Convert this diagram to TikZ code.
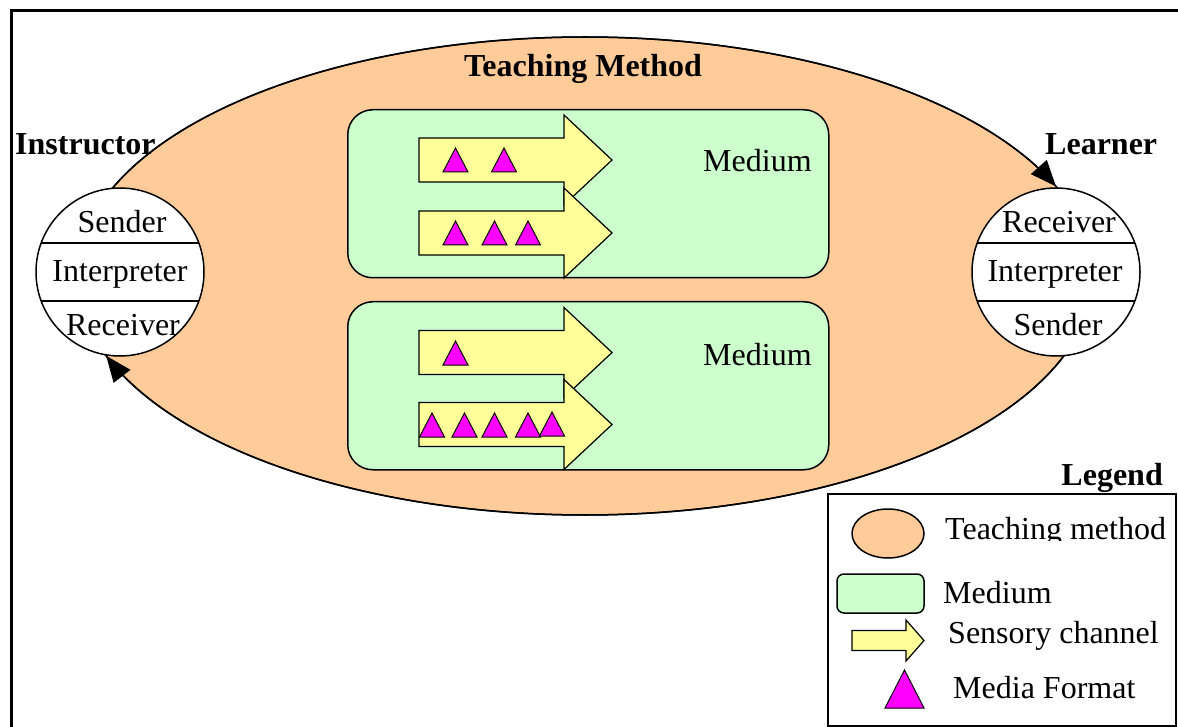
\documentclass[tikz,border=0pt]{standalone}
\usepackage{fontspec}
\setmainfont{Liberation Serif}
\usetikzlibrary{arrows.meta,shapes.geometric}
\definecolor{teachfill}{HTML}{FFCC99}
\definecolor{medfill}{HTML}{CCFFCC}
\definecolor{chanfill}{HTML}{FFFF99}
\definecolor{fmtfill}{HTML}{FF00FF}
\begin{document}
\begin{tikzpicture}[x=1pt,y=-1pt,
  every node/.style={inner sep=0pt, font=\fontsize{32}{38}\selectfont},
  boldlab/.style={font=\fontsize{32}{38}\selectfont\bfseries},
  mediumbox/.style={draw, fill=medfill, line width=1.5pt, rounded corners=25pt, anchor=north west},
  person/.style={circle, draw, fill=white, line width=1.5pt, minimum size=168pt},
  chanstyle/.style={draw, fill=chanfill, line width=1.2pt, line join=miter},
  fmtstyle/.style={draw, fill=fmtfill, line width=1pt, line join=miter},
  flow/.style={line width=1.5pt, -{Triangle[length=26pt,width=21pt]}},
  chan/.pic={\path[chanstyle] (0,-22) -- (145,-22) -- (145,-45) -- (193,0) -- (145,45) -- (145,22) -- (0,22) -- cycle;},
  fmt/.pic={\path[fmtstyle] (-12.5,0) -- (12.5,0) -- (0,-24) -- cycle;}
]
\useasboundingbox (0,0) rectangle (1178,727);

% outer frame
\draw[line width=3pt] (11,727) -- (11,11) -- (1178,11);

% teaching method
\filldraw[fill=teachfill, draw=black, line width=1.5pt] (585,276) ellipse [x radius=508, y radius=239];
\node[boldlab, anchor=base] (method) at (583,77) {Teaching Method};

% media with their sensory channels
\node[mediumbox, minimum width=481pt, minimum height=168pt] (med1) at (347,109) {};
\node[mediumbox, minimum width=481pt, minimum height=168pt] (med2) at (347,301) {};
\node[anchor=base west] (medlab1) at (703,172) {Medium};
\node[anchor=base west] (medlab2) at (703,365) {Medium};

\pic at (419,160) {chan};
\pic at (419,233) {chan};
\pic at (419,352.5) {chan};
\pic at (419,424.5) {chan};

% media formats
\foreach \px in {455.5,504} \pic at (\px,172) {fmt};
\foreach \px in {455.5,494.5,528} \pic at (\px,245) {fmt};
\pic at (455.5,365) {fmt};
\foreach \px in {432,464.5,494.5,528} \pic at (\px,437) {fmt};
\pic at (552,436) {fmt};

% instructor and learner
\node[person] (instr) at (120,272) {};
\node[person] (learner) at (1056,272) {};
\draw[line width=1.5pt] (instr.center) ++(-78.8,-29) -- ++(157.6,0);
\draw[line width=1.5pt] (instr.center) ++(-78.8,29) -- ++(157.6,0);
\draw[line width=1.5pt] (learner.center) ++(-78.8,-29) -- ++(157.6,0);
\draw[line width=1.5pt] (learner.center) ++(-78.8,29) -- ++(157.6,0);

\node[anchor=base] (isend) at (122,233) {Sender};
\node[anchor=base] (iint) at (120,282) {Interpreter};
\node[anchor=base] (irec) at (123,335) {Receiver};
\node[anchor=base] (lrec) at (1059,233) {Receiver};
\node[anchor=base] (lint) at (1055,282) {Interpreter};
\node[anchor=base] (lsend) at (1058,335) {Sender};

\node[boldlab, anchor=base west] (instrlab) at (15,155) {Instructor};
\node[boldlab, anchor=base west] (learnlab) at (1045,155) {Learner};

% flow along the teaching method, instructor to learner and back
\draw[flow] plot[domain=-158.5:-22, samples=90, smooth] ({585+508*cos(\x)},{276+239*sin(\x)});
\draw[flow] plot[domain=19.5:160.5, samples=90, smooth] ({585+508*cos(\x)},{276+239*sin(\x)});

% legend
\node[boldlab, anchor=base east] (leglab) at (1163,485) {Legend};
\node[draw, line width=2pt, minimum width=348pt, minimum height=232pt, anchor=north west] (legbox) at (827,493) {};
\node[ellipse, draw, fill=teachfill, line width=1.5pt, minimum width=72pt, minimum height=49pt] (legteach) at (888,533.5) {};
\node[draw, fill=medfill, line width=1.5pt, rounded corners=7pt, minimum width=87pt, minimum height=39pt] (legmed) at (880.5,593.5) {};
\path[chanstyle] (852,630.5) -- (906,630.5) -- (906,620) -- (924,640.5) -- (906,661) -- (906,650.5) -- (852,650.5) -- cycle;
\path[fmtstyle] (885,708) -- (924,708) -- (904.5,670) -- cycle;
\begin{scope}
  \clip (935,500) rectangle (1172,540.5);
  \node[anchor=base west] (legteachtxt) at (945,539.5) {Teaching method};
\end{scope}
\node[anchor=base west] (legmedtxt) at (943,603) {Medium};
\node[anchor=base west] (legchantxt) at (948,643) {Sensory channel};
\node[anchor=base west] (legfmttxt) at (953,698) {Media Format};
\end{tikzpicture}
\end{document}
